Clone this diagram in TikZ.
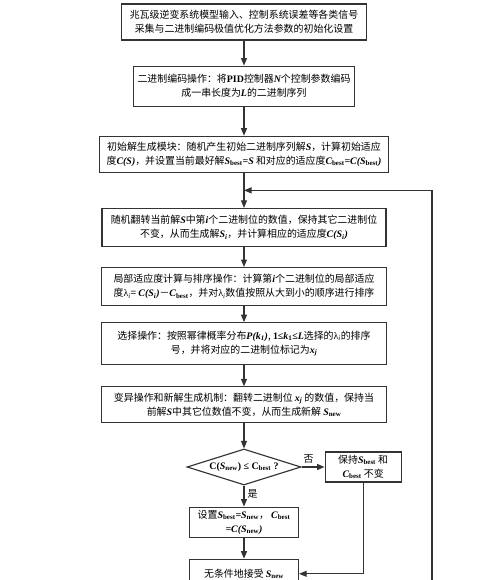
\documentclass[tikz,border=0pt]{standalone}
\usepackage{fontspec}
\setmainfont{Noto Sans CJK SC}
\newfontfamily\lat{Liberation Serif}
\usetikzlibrary{positioning,shapes.geometric,arrows.meta}
\newcommand{\vv}[1]{{\lat\bfseries\itshape #1}}
\newcommand{\lsub}[1]{\textsubscript{\lat\bfseries #1}}
\tikzset{
  box/.style={draw=black!80, line width=1.3pt, align=center, inner sep=2pt},
  arr/.style={draw=black!80, line width=1.3pt, -{Triangle[length=3mm,width=2.4mm]}},
  wire/.style={draw=black!70, line width=1.3pt},
  every node/.style={font=\fontsize{11.3}{16}\selectfont}
}
\begin{document}
\begin{tikzpicture}
                \useasboundingbox (0,0) rectangle (20,-23.2);
                \node[box, minimum width=9.8cm, minimum height=1.44cm] (init) at (9.76,-0.88) {兆瓦级逆变系统模型输入、控制系统误差等各类信号\\采集与二进制编码极值优化方法参数的初始化设置};
                \node[box, minimum width=8.84cm, minimum height=1.6cm, below=1cm of init] (code) {二进制编码操作：将{\lat\bfseries PID}控制器\vv{N}个控制参数编码\\成一串长度为\vv{L}的二进制序列};
                \node[box, minimum width=11.56cm, minimum height=1.44cm, below=1.16cm of code] (gen) {初始解生成模块：随机产生初始二进制序列解\vv{S}，计算初始适应\\度\vv{C(S)}，并设置当前最好解\vv{S}\lsub{best}\vv{=S} 和对应的适应度\vv{C}\lsub{best}\vv{=C(S}\lsub{best}\vv{)}};
                \node[box, minimum width=11.36cm, minimum height=1.52cm, below=1.4cm of gen] (flip) {随机翻转当前解\vv{S}中第\vv{i}个二进制位的数值，保持其它二进制位\\不变，从而生成解\vv{S\textsubscript{i}}，并计算相应的适应度\vv{C(S\textsubscript{i})}};
                \node[box, minimum width=11.4cm, minimum height=1.52cm, below=0.8cm of flip] (rank) {局部适应度计算与排序操作：计算第\vv{i}个二进制位的局部适应\\度{\lat λ\textsubscript{\itshape i}}= \vv{C(S\textsubscript{i})}－\vv{C}\lsub{best}，并对{\lat λ\textsubscript{\itshape i}}数值按照从大到小的顺序进行排序};
                \node[box, minimum width=11.4cm, minimum height=1.68cm, below=0.64cm of rank] (sel) {选择操作：按照幂律概率分布\vv{P(k\textsubscript{1})}, {\lat\bfseries 1≤\textit{k}\textsubscript{1}≤\textit{L}}选择的{\lat λ\textsubscript{\itshape i}}的排序\\号，并将对应的二进制位标记为\vv{x\textsubscript{j}}};
                \node[box, minimum width=11.4cm, minimum height=1.44cm, below=0.84cm of sel] (mut) {变异操作和新解生成机制：翻转二进制位 \vv{x\textsubscript{j}} 的数值，保持当\\前解\vv{S}中其它位数值不变，从而生成新解 \vv{S}\lsub{new}};
                \node[box, diamond, aspect=3.17, inner sep=0pt, minimum width=4.56cm, minimum height=1.44cm, below=1cm of mut] (chk) {{\lat\bfseries C(\textit{S}\textsubscript{new}) ≤ C\textsubscript{best} ?}};
                \node[box, minimum width=3.04cm, minimum height=1.2cm, right=0.92cm of chk] (keep) {保持\vv{S}\lsub{best} 和\\\vv{C}\lsub{best} 不变};
                \node[box, minimum width=4.36cm, minimum height=1.2cm, inner sep=1pt, below=0.84cm of chk] (upd) {设置\vv{S}\lsub{best}\vv{=S}\lsub{new}， \vv{C}\lsub{best}\\\vv{=C(S}\lsub{new}\vv{)}};
                \node[box, minimum width=4.36cm, minimum height=1.16cm, below=0.84cm of upd] (acc) {无条件地接受 \vv{S}\lsub{new}};

                \path (gen.south) -- coordinate[pos=0.5] (jn) (flip.north);
                \coordinate (back) at (17.28,-23.2);
                \coordinate (out) at (acc.south |- back);

                \draw[arr] (init) -- (code);
                \draw[arr] (code) -- (gen);
                \draw[arr] (gen) -- (flip);
                \draw[arr] (flip) -- (rank);
                \draw[arr] (rank) -- (sel);
                \draw[arr] (sel) -- (mut);
                \draw[arr] (mut) -- (chk);
                \draw[arr] (chk) -- node[above, pos=0.3] {否} (keep);
                \draw[arr] (chk) -- node[right, pos=0.4] {是} (upd);
                \draw[arr] (upd) -- (acc);
                \draw[arr] (keep.south) |- (acc.east);
                \draw[wire] (acc) -- (out);
                \draw[arr] (back) |- (jn);
            \end{tikzpicture}
\end{document}
